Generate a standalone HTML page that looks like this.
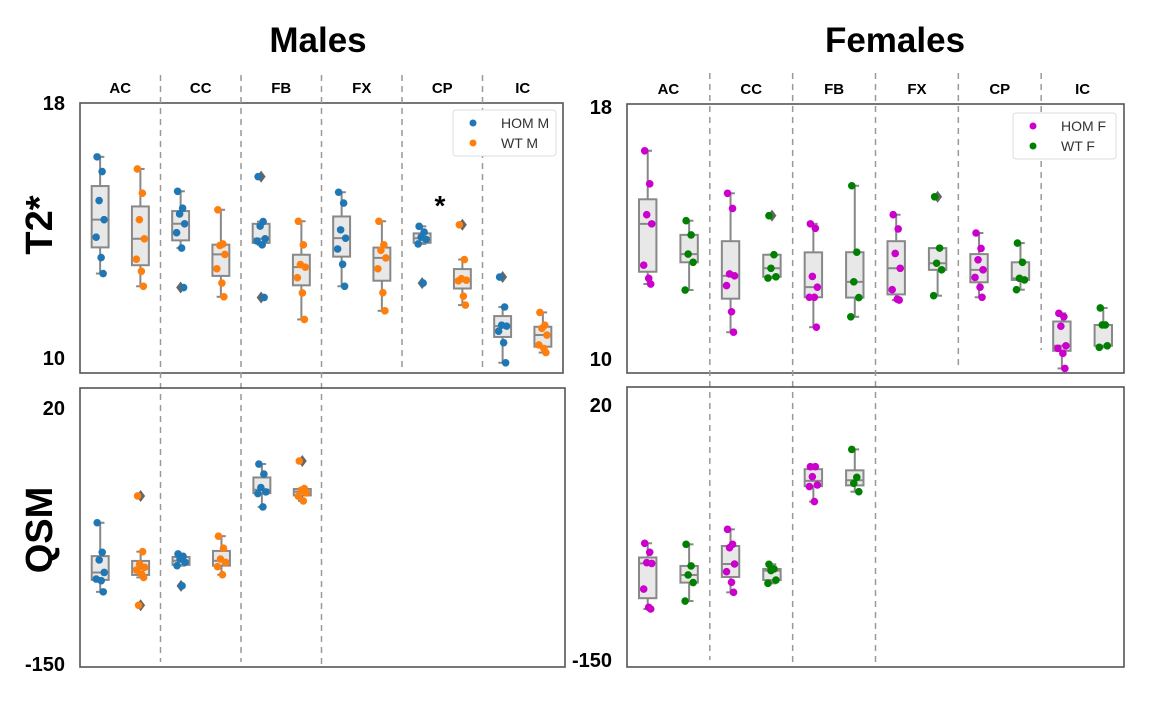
<!DOCTYPE html>
<html><head><meta charset="utf-8"><style>
html,body{margin:0;padding:0;background:#fff;}
svg{display:block;font-family:"Liberation Sans",Arial,sans-serif;}
</style></head><body>
<svg id="fig" width="1168" height="712" viewBox="0 0 1168 712" xmlns="http://www.w3.org/2000/svg">
<text x="318" y="52" text-anchor="middle" font-size="35" font-weight="bold">Males</text>
<text x="895" y="52" text-anchor="middle" font-size="35" font-weight="bold">Females</text>
<text transform="translate(52,225) rotate(-90)" text-anchor="middle" font-size="38" font-weight="bold">T2*</text>
<text transform="translate(52,530) rotate(-90)" text-anchor="middle" font-size="38" font-weight="bold">QSM</text>
<text x="440" y="215" text-anchor="middle" font-size="28" font-weight="bold">*</text>
<g id="plots"></g>
</svg>
<script>
const categories = ["AC","CC","FB","FX","CP","IC"];
const qsmCategories = ["AC","CC","FB"];
const t2TickLabels = ["18","10"];
const qsmTickLabels = ["20","-150"];
// Male T2*
const t2MaleHom = [
 [16.31,15.85,14.94,14.34,13.79,13.15,12.65],
 [15.23,14.70,14.52,14.21,13.93,13.45,12.21],
 [15.69,14.28,14.14,13.74,13.67,13.55,11.90],
 [15.20,14.86,14.02,13.76,13.42,12.94,12.25],
 [14.13,13.95,13.79,13.72,13.58,12.35],
 [12.54,11.60,11.03,11.00,10.84,10.48,9.85]];
const t2MaleWt = [
 [15.93,15.17,14.34,13.74,13.10,12.72,12.25],
 [14.65,13.58,13.53,13.25,12.80,12.35,11.92],
 [14.29,13.55,12.93,12.85,12.52,12.04,11.21],
 [14.29,13.55,13.38,13.14,12.80,12.05,11.48],
 [14.18,13.09,12.49,12.44,12.42,11.94,11.66],
 [11.43,11.03,10.93,10.72,10.41,10.30,10.17]];
// Female T2*
const t2FemHom = [
 [16.61,15.56,14.58,14.29,12.98,12.56,12.38],
 [15.26,14.78,12.70,12.64,12.33,11.50,10.85],
 [14.29,14.15,12.62,12.28,11.96,11.96,11.01],
 [14.58,14.13,13.35,12.88,12.20,11.90,11.87],
 [14.00,13.51,13.15,12.83,12.59,12.28,11.96],
 [11.45,11.34,11.04,10.42,10.34,10.18,9.70]];
const t2FemWt = [
 [14.39,13.94,13.33,13.07,12.19],
 [14.55,13.31,12.88,12.61,12.57],
 [15.50,13.39,12.45,11.95,11.34],
 [15.15,13.52,13.04,12.83,12.01],
 [13.68,13.07,12.56,12.51,12.20],
 [11.62,11.08,11.08,10.42,10.37]];
// Male QSM
const qsmMaleHom = [
 [-56.2,-75.8,-80.9,-89.2,-93.6,-94.7,-102.1],
 [-76.9,-78.5,-80.3,-82.5,-84.7,-98.1],
 [-17.2,-23.9,-32.8,-35.7,-36.8,-45.7]];
const qsmMaleWt = [
 [-38.4,-75.4,-83.6,-85.8,-87.6,-90.3,-92.5,-111.0],
 [-65.1,-73.1,-80.3,-82.5,-85.4,-90.7],
 [-15.2,-33.5,-34.6,-36.4,-38.6,-41.7]];
// Female QSM
const qsmFemHom = [
 [-72.2,-78.2,-85.1,-85.6,-102.7,-114.9,-116.0],
 [-62.9,-72.9,-75.1,-86.0,-91.1,-98.2,-104.9],
 [-21.1,-21.1,-27.8,-33.3,-34.4,-44.4]];
const qsmFemWt = [
 [-72.9,-87.3,-93.3,-98.4,-110.7],
 [-86.2,-89.3,-90.4,-96.7,-98.9],
 [-9.6,-28.2,-32.2,-37.8]];

const NS="http://www.w3.org/2000/svg";
const root=document.getElementById('plots');
function mk(tag,attrs,parent){const e=document.createElementNS(NS,tag);for(const k in attrs)e.setAttribute(k,attrs[k]);(parent||root).appendChild(e);return e;}
function quant(s,p){const i=(s.length-1)*p,lo=Math.floor(i),hi=Math.ceil(i);return s[lo]+(s[hi]-s[lo])*(i-lo);}
const jit=[-3,2,-1,4,-4,1,3,-2,0];

function panel(o){
  const g=mk('g',{});
  
  
  const bw=(o.x1-o.x0)/6;
  const yS=v=>o.yTop+(o.vTop-v)/(o.vTop-o.vBot)*(o.yBot-o.yTop);
  const r=mk('rect',{x:o.x0,y:o.top,width:o.x1-o.x0,height:o.bottom-o.top,fill:'none',stroke:'#555','stroke-width':1.6},g);
  
  
  // dividers
  o.dividers.forEach((d,i)=>{
    const x=o.x0+bw*(i+1);
    const l=mk('line',{x1:x,x2:x,y1:d[0],y2:d[1],stroke:'#999','stroke-width':1.5,'stroke-dasharray':'6,5'},g);
    
    
  });
  // category labels
  if(o.labels){o.labels.forEach((c,i)=>{
    const t=mk('text',{x:o.x0+bw*(i+0.5),y:o.top-10,'text-anchor':'middle','font-size':15,'font-weight':'bold'},g);
    t.textContent=c;
    
    
  });}
  // tick labels
  [[o.ticks[0],o.vTop],[o.ticks[1],o.vBot]].forEach(([lab,v])=>{
    const t=mk('text',{x:o.x0-15,y:yS(v)+7,'text-anchor':'end','font-size':20,'font-weight':'bold'},g);
    t.textContent=lab;
    
    
  });
  // series
  o.series.forEach((ser,si)=>{
    ser.data.forEach((vals,ci)=>{
      const cx=o.x0+bw*(ci+0.5)+(si===0?-1:1)*bw*0.25;
      const s=[...vals].sort((a,b)=>a-b);
      const q1=quant(s,0.25),q3=quant(s,0.75),med=quant(s,0.5),iqr=q3-q1;
      const inl=s.filter(v=>v>=q1-1.5*iqr&&v<=q3+1.5*iqr);
      const wl=inl[0],wh=inl[inl.length-1];
      const hw=bw*0.105;
      const bg=mk('g',{},g);
      
      
      const st={stroke:'#888','stroke-width':2};
      mk('line',Object.assign({x1:cx,x2:cx,y1:yS(wh),y2:yS(q3)},st),bg);
      mk('line',Object.assign({x1:cx,x2:cx,y1:yS(q1),y2:yS(wl)},st),bg);
      mk('line',Object.assign({x1:cx-hw/2,x2:cx+hw/2,y1:yS(wh),y2:yS(wh)},st),bg);
      mk('line',Object.assign({x1:cx-hw/2,x2:cx+hw/2,y1:yS(wl),y2:yS(wl)},st),bg);
      mk('rect',Object.assign({x:cx-hw,y:yS(q3),width:2*hw,height:Math.max(1,yS(q1)-yS(q3)),fill:'#e8e8e8'},st),bg);
      mk('line',Object.assign({x1:cx-hw,x2:cx+hw,y1:yS(med),y2:yS(med)},st),bg);
      s.forEach(v=>{if(v<wl||v>wh){const y=yS(v);const d=mk('polygon',{points:`${cx},${y-6} ${cx+4.5},${y} ${cx},${y+6} ${cx-4.5},${y}`,fill:'#666'},bg);
        
        }});
      vals.forEach((v,k)=>{
        const c=mk('circle',{cx:cx+jit[k%jit.length],cy:yS(v),r:3.8,fill:ser.color},bg);
        
        
      });
    });
  });
  if(o.legend){
    const L=o.legend;
    const lg=mk('g',{},g);
    
    
    mk('rect',{x:L.x,y:L.y,width:103,height:46,rx:3,fill:'#fff',stroke:'#ddd','stroke-width':1},lg);
    o.series.forEach((ser,i)=>{
      const e=mk('g',{},lg);
      
      
      mk('circle',{cx:L.x+20,cy:L.y+13+i*20,r:3.5,fill:ser.color},e);
      const t=mk('text',{x:L.x+48,y:L.y+18+i*20,'font-size':14,fill:'#333'},e);
      t.textContent=ser.label;
    });
  }
}
const blue='#1f77b4',orange='#ff7f0e',mag='#cc00cc',green='#008000';
panel({name:'male-t2-panel',x0:80,x1:563,top:103,bottom:373,yTop:103,yBot:358,vTop:18,vBot:10,ticks:t2TickLabels,labels:categories,cats:categories,
  dividers:[[75,662],[75,662],[75,665],[75,367],[75,367]],
  series:[{key:'hom-m',label:'HOM M',color:blue,data:t2MaleHom},{key:'wt-m',label:'WT M',color:orange,data:t2MaleWt}],
  legend:{x:453,y:110}});
panel({name:'female-t2-panel',x0:627,x1:1124,top:104,bottom:373,yTop:107,yBot:359,vTop:18,vBot:10,ticks:t2TickLabels,labels:categories,cats:categories,
  dividers:[[73,660],[73,665],[73,665],[73,366],[73,350]],
  series:[{key:'hom-f',label:'HOM F',color:mag,data:t2FemHom},{key:'wt-f',label:'WT F',color:green,data:t2FemWt}],
  legend:{x:1013,y:113}});
panel({name:'male-qsm-panel',x0:80,x1:565,top:388,bottom:667,yTop:408,yBot:664,vTop:20,vBot:-150,ticks:qsmTickLabels,labels:null,cats:qsmCategories,
  dividers:[],
  series:[{key:'hom-m',color:blue,data:qsmMaleHom},{key:'wt-m',color:orange,data:qsmMaleWt}]});
panel({name:'female-qsm-panel',x0:627,x1:1124,top:387,bottom:667,yTop:405,yBot:660,vTop:20,vBot:-150,ticks:qsmTickLabels,labels:null,cats:qsmCategories,
  dividers:[],
  series:[{key:'hom-f',color:mag,data:qsmFemHom},{key:'wt-f',color:green,data:qsmFemWt}]});
</script>
</body></html>
